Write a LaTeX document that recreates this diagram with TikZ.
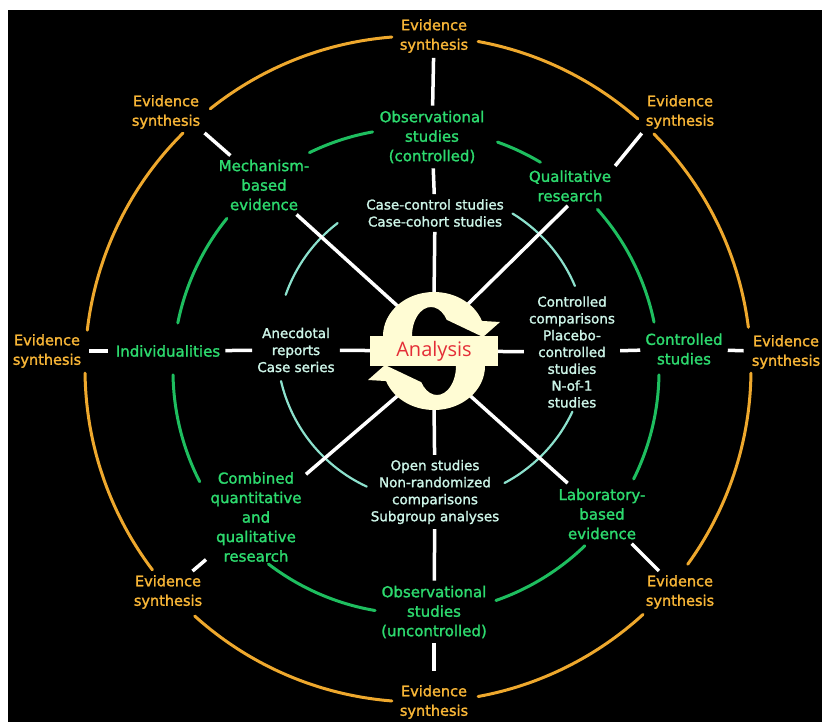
\documentclass[tikz,border=0pt]{standalone}
\usepackage{fontspec}
\setmainfont{DejaVu Sans}
\newfontfamily\lbl{DejaVu Sans}[BoldFont={DejaVu Sans}, BoldFeatures={FakeBold=1.6}]
\newfontfamily\anafont{Open Sans}
\pgfdeclarelayer{bg}
\pgfsetlayers{bg,main}
\definecolor{orng}{RGB}{238,168,45}
\definecolor{orngtxt}{RGB}{248,182,55}
\definecolor{grn}{RGB}{30,190,95}
\definecolor{grntxt}{RGB}{45,218,110}
\definecolor{mint}{RGB}{140,225,205}
\definecolor{minttxt}{RGB}{205,245,232}
\definecolor{cream}{RGB}{255,252,212}
\definecolor{anared}{RGB}{228,45,55}
\begin{document}
\begin{tikzpicture}[x=1pt,y=-1pt,
  es/.style={text=orngtxt, font=\lbl\bfseries\fontsize{14.5}{19.5}\selectfont, align=center, inner sep=2pt},
  gl/.style={text=grntxt, font=\lbl\bfseries\fontsize{15}{19.5}\selectfont, align=center, inner sep=2pt},
  il/.style={text=minttxt, font=\lbl\bfseries\fontsize{13.5}{17}\selectfont, align=center, inner sep=2pt},
  spoke/.style={draw=white, line width=3.5pt, shorten <=3pt, shorten >=3pt},
  cycarrow/.style={fill=cream},
  anabox/.style={fill=cream, minimum width=128pt, minimum height=30pt, inner sep=0pt,
    text=anared, font=\anafont\fontsize{20}{24}\selectfont},
  orarc/.style={draw=orng, line width=3pt, line cap=round},
  grarc/.style={draw=grn, line width=3pt, line cap=round},
  mtarc/.style={draw=mint, line width=2.2pt, line cap=round}]
\useasboundingbox (0,0) rectangle (822,722);
% cycle arrows
\fill[cycarrow] (383,336) arc[start angle=180, end angle=340, x radius=51, y radius=44]
   -- (500,322) -- (483,337) -- (446.75,319.8)
   arc[start angle=-34, end angle=-180, x radius=19, y radius=29] -- cycle;
\fill[cycarrow] (485,366) arc[start angle=0, end angle=160, x radius=51, y radius=44]
   -- (368,380) -- (385,365) -- (421.25,382.2)
   arc[start angle=146, end angle=0, x radius=19, y radius=29] -- cycle;
\node[anabox] (ana) at (434,351) {Analysis};
% outer labels
\node[es] (estop) at (434,36) {Evidence\\synthesis};
\node[es] (esbot) at (434,702) {Evidence\\synthesis};
\node[es] (estl) at (166,112) {Evidence\\synthesis};
\node[es] (estr) at (680,112) {Evidence\\synthesis};
\node[es] (esl) at (47,351) {Evidence\\synthesis};
\node[es] (esr) at (786,352) {Evidence\\synthesis};
\node[es] (esbl) at (168,592) {Evidence\\synthesis};
\node[es] (esbr) at (680,592) {Evidence\\synthesis};
% green labels
\node[gl] (obsc) at (432,137) {Observational\\studies\\(controlled)};
\node[gl] (mech) at (264,185) {Mechanism-\\based\\evidence};
\node[gl] (qual) at (570,186) {Qualitative\\research};
\node[gl] (indiv) at (168,351) {Individualities};
\node[gl] (ctrls) at (684,349) {Controlled\\studies};
\node[gl] (comb) at (256,517) {Combined\\quantitative\\and\\qualitative\\research};
\node[gl] (lab) at (602,514) {Laboratory-\\based\\evidence};
\node[gl] (obsu) at (434,612) {Observational\\studies\\(uncontrolled)};
% inner labels
\node[il] (cc) at (435,213) {Case-control studies\\Case-cohort studies};
\node[il, font=\lbl\bfseries\fontsize{13.5}{16.8}\selectfont] (ccomp) at (572,352) {Controlled\\comparisons\\Placebo-\\controlled\\studies\\N-of-1\\studies};
\node[il] (anec) at (296,350) {Anecdotal\\reports\\Case series};
\node[il] (open) at (435,492) {Open studies\\Non-randomized\\comparisons\\Subgroup analyses};
% hub points on the cycle arrows
\coordinate (atop) at (434,298);
\coordinate (abot) at (434,404);
\coordinate (htl) at (402,310);
\coordinate (htr) at (464,308);
\coordinate (hbl) at (402,392);
\coordinate (hbr) at (466,392);
\begin{pgfonlayer}{bg}
  \fill[white] (0,0) rectangle (822,722);
  \fill[black] (8,10) rectangle (822,722);
  \foreach \a/\b in {-79.6/-48.7,-44.9/-7.2,0.7/35.9,47.5/79.6,94.5/132.1,142.9/179.3,186.7/225.1,231.4/265.5}
    \draw[orarc] ([shift={(418,369)}]\a:333) arc[start angle=\a, end angle=\b, radius=333];
  \foreach \a/\b in {244/259.7,-70.4/-59.2,-41.7/-11.6,0.9/26.4,46/70.8,99.7/127.4,152.9/179.1,191.4/218.9}
    \draw[grarc] ([shift={(416,371)}]\a:243) arc[start angle=\a, end angle=\b, radius=243];
  \foreach \a/\b in {199.3/232.5,-58.7/-22.8,25.1/62.1,114.9/166.9}
    \draw[mtarc] ([shift={(432,346)}]\a:155) arc[start angle=\a, end angle=\b, radius=155];
  % vertical spokes
  \draw[spoke] (estop) -- (obsc);
  \draw[spoke] (obsc) -- (cc);
  \draw[spoke] (cc) -- (atop);
  \draw[spoke] (abot) -- (open);
  \draw[spoke] (open) -- (obsu);
  \draw[spoke, shorten >=12pt] (obsu) -- (esbot);
  % horizontal spokes
  \draw[spoke, shorten <=6pt, shorten >=6pt] (esl) -- (indiv);
  \draw[spoke] (indiv) -- (anec);
  \draw[spoke, shorten >=0pt] (anec) -- (ana);
  \draw[spoke, shorten <=0pt] (ana) -- (ccomp);
  \draw[spoke] (ccomp) -- (ctrls);
  \draw[spoke, shorten >=6pt] (ctrls) -- (esr);
  % diagonal spokes
  \draw[spoke] (estl.south east) -- (mech);
  \draw[spoke] (mech) -- (htl);
  \draw[spoke] (estr.south west) -- (qual.north east);
  \draw[spoke] (qual.south) -- (htr);
  \draw[spoke] (hbl) -- (comb);
  \draw[spoke] (comb) -- (esbl);
  \draw[spoke, shorten >=5pt] (hbr) -- (lab);
  \draw[spoke] (lab) -- (esbr);
\end{pgfonlayer}
\end{tikzpicture}
\end{document}
